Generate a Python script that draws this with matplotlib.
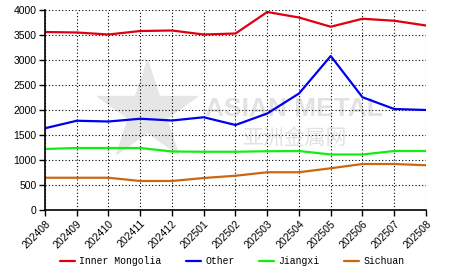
import matplotlib
matplotlib.use("Agg")
import matplotlib.pyplot as plt
from matplotlib.lines import Line2D

months = ["202408", "202409", "202410", "202411", "202412", "202501", "202502",
          "202503", "202504", "202505", "202506", "202507", "202508"]
inner_mongolia = [3560, 3550, 3510, 3580, 3590, 3510, 3530, 3960, 3850, 3665, 3825, 3785, 3690]
other = [1635, 1785, 1770, 1825, 1790, 1855, 1700, 1930, 2330, 3080, 2255, 2020, 2000]
jiangxi = [1220, 1240, 1240, 1240, 1170, 1165, 1165, 1175, 1180, 1110, 1110, 1180, 1180]
sichuan = [645, 645, 645, 580, 580, 640, 685, 755, 755, 835, 920, 920, 895]

series_names = ["Inner Mongolia", "Other", "Jiangxi", "Sichuan"]
colors = ["#dd0011", "#0000ee", "#11ee11", "#cc6611"]

W, H = 466, 272
fig = plt.figure(figsize=(W / 100, H / 100), dpi=100)
ax = fig.add_axes([45 / W, 1 - 210 / H, (426 - 45) / W, 200 / H])
ax.patch.set_alpha(0)

# watermark (behind axes)
fig.add_artist(Line2D([147 / W], [1 - 112 / H], marker="*", markersize=75,
                      color="#e6e6e6", transform=fig.transFigure, zorder=-5))
fig.text(294 / W, 1 - 109 / H, "ASIAN METAL", fontsize=19, fontweight="bold", color="#e2e2e2",
         ha="center", va="center", family="Liberation Sans", zorder=-4)
fig.text(294 / W, 1 - 138 / H, "亚洲金属网", fontsize=15, color="#e2e2e2",
         ha="center", va="center", family="Noto Sans CJK SC", zorder=-4)

x = list(range(len(months)))
for vals, name, c in zip([inner_mongolia, other, jiangxi, sichuan], series_names, colors):
    ax.plot(x, vals, color=c, lw=1.6, label=name, solid_capstyle="round")

ax.set_xlim(0, len(months) - 1)
ax.set_ylim(0, 4000)
ax.set_yticks(range(0, 4001, 500))
ax.set_xticks(x)
ax.set_xticklabels(months, rotation=45, ha="right", rotation_mode="anchor",
                   fontsize=7.5, family="Liberation Sans", color="#222222")
for lab in ax.get_yticklabels():
    lab.set_family("Liberation Sans")
    lab.set_fontsize(7.5)
ax.tick_params(direction="out", length=4, width=1, colors="black", pad=2)
ax.grid(True, color="black", linestyle=(0, (1, 2)), linewidth=0.8)
ax.set_axisbelow(True)
for s in ["top", "right"]:
    ax.spines[s].set_visible(False)
for s in ["left", "bottom"]:
    ax.spines[s].set_linewidth(1.2)

fig.legend(loc="center", bbox_to_anchor=(232 / W, 1 - 261 / H), ncol=4, frameon=False,
           prop={"family": "Liberation Mono", "size": 7}, handlelength=1.6,
           handletextpad=0.4, columnspacing=2.5)

fig.savefig("out.png", dpi=100)
